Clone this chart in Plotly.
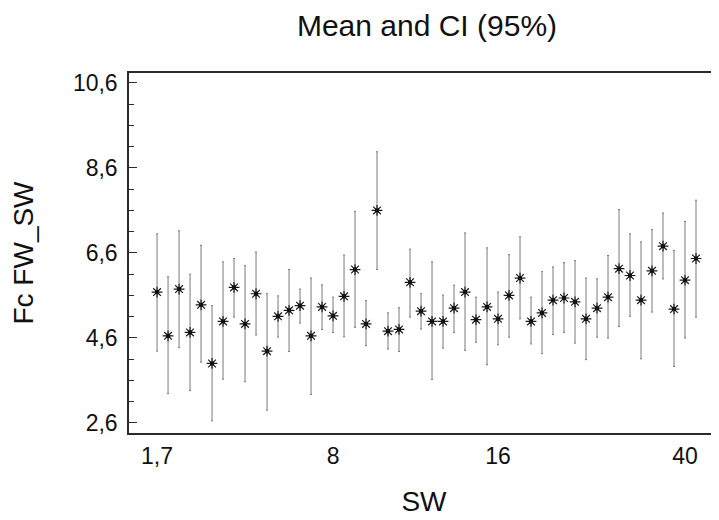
import plotly.graph_objects as go

# group index along SW (50 groups)
group = list(range(1, 51))

mean = [5.68, 4.65, 5.75, 4.73, 5.38, 4.00, 4.99, 5.79, 4.93, 5.64,
        4.29, 5.11, 5.25, 5.36, 4.65, 5.33, 5.12, 5.58, 6.21, 4.93,
        7.60, 4.76, 4.80, 5.91, 5.23, 4.99, 4.99, 5.30, 5.68, 5.03,
        5.33, 5.05, 5.60, 6.01, 4.99, 5.19, 5.49, 5.54, 5.45, 5.05,
        5.30, 5.56, 6.23, 6.07, 5.49, 6.18, 6.76, 5.28, 5.96, 6.47]

upper = [7.05, 6.04, 7.12, 6.10, 6.78, 5.36, 6.39, 6.47, 6.30, 6.62,
         5.64, 5.59, 6.21, 5.75, 6.01, 5.85, 5.56, 6.55, 7.58, 5.48,
         8.98, 5.19, 5.31, 6.69, 5.64, 6.39, 5.61, 5.84, 7.07, 5.56,
         6.72, 5.68, 6.56, 6.98, 5.56, 6.16, 6.27, 6.37, 6.42, 6.01,
         5.99, 6.54, 7.62, 7.05, 6.86, 7.15, 7.54, 6.66, 7.34, 7.84]

lower = [4.29, 3.29, 4.37, 3.36, 4.03, 2.65, 3.63, 5.09, 3.57, 4.67,
         2.90, 4.62, 4.28, 4.95, 3.27, 4.80, 4.73, 4.63, 4.85, 4.42,
         6.21, 4.34, 4.28, 5.09, 4.81, 3.62, 4.36, 4.73, 4.31, 4.50,
         3.97, 4.44, 4.62, 5.05, 4.46, 4.23, 4.68, 4.73, 4.48, 4.09,
         4.62, 4.60, 4.87, 5.11, 4.11, 5.21, 5.99, 3.93, 4.60, 5.09]

x_tick_pos = [1, 17, 32, 49]
x_tick_labels = ["1,7", "8", "16", "40"]

err_plus = [u - m for u, m in zip(upper, mean)]
err_minus = [m - l for m, l in zip(mean, lower)]

FONT = "Liberation Sans, Arial, sans-serif"
AX = "#2a2a2a"

# page body has an 8px default margin, so the figure is 711x512
W, H = 711, 512

fig = go.Figure()
fig.add_trace(go.Scatter(
    x=group, y=mean, mode="markers",
    error_y=dict(type="data", symmetric=False, array=err_plus, arrayminus=err_minus,
                 color="#7a7a7a", thickness=1, width=1),
    marker=dict(symbol="asterisk-open", size=9, color="#1a1a1a",
                line=dict(color="#1a1a1a", width=1.2)),
    showlegend=False, hoverinfo="skip",
))
fig.add_trace(go.Scatter(
    x=group, y=mean, mode="markers",
    marker=dict(symbol="square", size=4, color="#111111"),
    showlegend=False, hoverinfo="skip",
))

fig.update_layout(
    width=W, height=H,
    margin=dict(l=121, r=0, t=65, b=87, autoexpand=False),
    paper_bgcolor="white", plot_bgcolor="white",
    separators=",.",
    font=dict(family=FONT, color="#111111"),
    title=dict(text="Mean and CI (95%)", x=419 / W, xanchor="center",
               y=1 - 7 / H, yanchor="top", yref="container",
               font=dict(size=30, family=FONT, color="#111111")),
)

fig.update_xaxes(
    range=[-1.55, 52.09], tickmode="array", tickvals=x_tick_pos, ticktext=x_tick_labels,
    ticks="", showgrid=False, zeroline=False, automargin=False,
    showline=True, linecolor=AX, linewidth=1.5, mirror=True,
    tickfont=dict(size=23, family=FONT, color="#111111"),
    ticklabelstandoff=2,
    title=dict(text="SW", font=dict(size=28, family=FONT, color="#111111"), standoff=23),
)
fig.update_yaxes(
    range=[2.364, 10.834], tick0=2.6, dtick=2, tickformat=".1f",
    ticks="inside", ticklen=8, tickwidth=1.3, tickcolor=AX,
    minor=dict(tick0=2.6, dtick=0.5, ticks="inside", ticklen=5, tickwidth=1, tickcolor=AX),
    showgrid=False, zeroline=False, automargin=False,
    showline=True, linecolor=AX, linewidth=1.5, mirror="ticks",
    tickfont=dict(size=23, family=FONT, color="#111111"),
    ticklabelstandoff=5,
    title=dict(text="Fc FW_SW", font=dict(size=28, family=FONT, color="#111111"), standoff=31),
)

fig.write_html("out.html")
